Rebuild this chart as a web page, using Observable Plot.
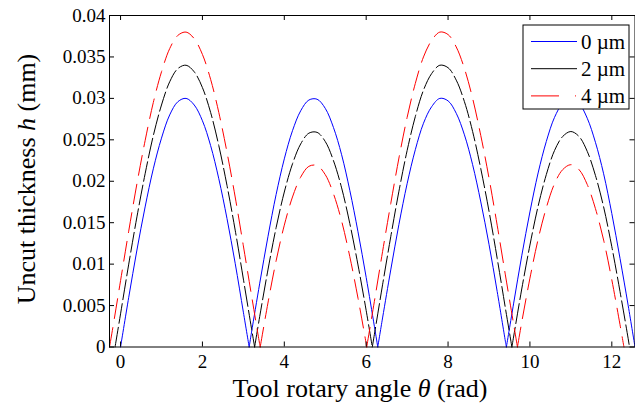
<!DOCTYPE html>
<html>
<head>
<meta charset="utf-8">
<script src="https://cdn.jsdelivr.net/npm/d3@7"></script>
<script src="https://cdn.jsdelivr.net/npm/@observablehq/plot@0.6"></script>
<style>
  html, body { margin: 0; padding: 0; background: #fff; }
  #chart svg, #chart svg text, #chart svg tspan { font-family: 'Liberation Serif', 'Times New Roman', Times, serif !important; }
</style>
</head>
<body>
<div id="chart"></div>
<script>
// ---- Data ----
const seriesNames = ["0 µm", "2 µm", "4 µm"];
const seriesColors = ["#0000ff", "#000000", "#ff0000"];
const seriesDash = [null, "20,4", "20,9"];
const legendDash = [null, null, "28,16,1,16"];

const xTicks = [0, 2, 4, 6, 8, 10, 12];
const xTickLabels = ["0", "2", "4", "6", "8", "10", "12"];
const yTicks = [0, 0.005, 0.01, 0.015, 0.02, 0.025, 0.03, 0.035, 0.04];
const yTickLabels = ["0", "0.005", "0.01", "0.015", "0.02", "0.025", "0.03", "0.035", "0.04"];
const xDomain = [-0.27, 12.5664];
const yDomain = [0, 0.04];

// 0 µm (blue)
const theta0 = [0, 0.2, 0.4, 0.6, 0.8, 1.0, 1.2, 1.4, 1.6, 1.8, 2.0, 2.2, 2.4, 2.6, 2.8, 3.0, 3.1416,
  3.2, 3.4, 3.6, 3.8, 4.0, 4.2, 4.4, 4.6, 4.8, 5.0, 5.2, 5.4, 5.6, 5.8, 6.0, 6.2, 6.2832,
  6.4, 6.6, 6.8, 7.0, 7.2, 7.4, 7.6, 7.8, 8.0, 8.2, 8.4, 8.6, 8.8, 9.0, 9.2, 9.4, 9.4248,
  9.6, 9.8, 10.0, 10.2, 10.4, 10.6, 10.8, 11.0, 11.2, 11.4, 11.6, 11.8, 12.0, 12.2, 12.4, 12.5664];
const h0 = [0, 0.0060, 0.0117, 0.0169, 0.0215, 0.0252, 0.0280, 0.0296, 0.0300, 0.0292, 0.0273, 0.0243, 0.0203, 0.0155, 0.0101, 0.0042, 0,
  0.0018, 0.0077, 0.0133, 0.0184, 0.0227, 0.0261, 0.0285, 0.0298, 0.0299, 0.0288, 0.0265, 0.0232, 0.0189, 0.0139, 0.0084, 0.0025, 0,
  0.0035, 0.0093, 0.0148, 0.0197, 0.0238, 0.0270, 0.0290, 0.0300, 0.0297, 0.0282, 0.0256, 0.0220, 0.0175, 0.0124, 0.0067, 0.0007, 0,
  0.0052, 0.0110, 0.0163, 0.0210, 0.0248, 0.0277, 0.0294, 0.0300, 0.0294, 0.0276, 0.0247, 0.0209, 0.0161, 0.0107, 0.0050, 0];

// 2 µm (black)
const theta2 = [-0.134, 0.0, 0.2, 0.4, 0.6, 0.8, 1.0, 1.2, 1.4, 1.6, 1.8, 2.0, 2.2, 2.4, 2.6, 2.8, 3.0, 3.2, 3.275,
  3.4, 3.6, 3.8, 4.0, 4.2, 4.4, 4.6, 4.8, 5.0, 5.2, 5.4, 5.6, 5.8, 6.0, 6.149,
  6.2, 6.4, 6.6, 6.8, 7.0, 7.2, 7.4, 7.6, 7.8, 8.0, 8.2, 8.4, 8.6, 8.8, 9.0, 9.2, 9.4, 9.559,
  9.6, 9.8, 10.0, 10.2, 10.4, 10.6, 10.8, 11.0, 11.2, 11.4, 11.6, 11.8, 12.0, 12.2, 12.4, 12.432];
const h2 = [0, 0.0040, 0.0100, 0.0157, 0.0209, 0.0255, 0.0292, 0.0320, 0.0336, 0.0340, 0.0332, 0.0313, 0.0283, 0.0243, 0.0195, 0.0141, 0.0082, 0.0022, 0,
  0.0037, 0.0093, 0.0144, 0.0187, 0.0221, 0.0245, 0.0258, 0.0259, 0.0248, 0.0225, 0.0192, 0.0149, 0.0099, 0.0044, 0,
  0.0015, 0.0075, 0.0133, 0.0188, 0.0237, 0.0278, 0.0310, 0.0330, 0.0340, 0.0337, 0.0322, 0.0296, 0.0260, 0.0215, 0.0164, 0.0107, 0.0047, 0,
  0.0012, 0.0070, 0.0123, 0.0170, 0.0208, 0.0237, 0.0254, 0.0260, 0.0254, 0.0236, 0.0207, 0.0169, 0.0121, 0.0067, 0.0010, 0];

// 4 µm (red)
const theta4 = [-0.27, -0.2, 0.0, 0.2, 0.4, 0.6, 0.8, 1.0, 1.2, 1.4, 1.6, 1.8, 2.0, 2.2, 2.4, 2.6, 2.8, 3.0, 3.2, 3.4, 3.4115,
  3.6, 3.8, 4.0, 4.2, 4.4, 4.6, 4.8, 5.0, 5.2, 5.4, 5.6, 5.8, 6.0, 6.013,
  6.2, 6.4, 6.6, 6.8, 7.0, 7.2, 7.4, 7.6, 7.8, 8.0, 8.2, 8.4, 8.6, 8.8, 9.0, 9.2, 9.4, 9.6, 9.695,
  9.8, 10.0, 10.2, 10.4, 10.6, 10.8, 11.0, 11.2, 11.4, 11.6, 11.8, 12.0, 12.2, 12.296];
const h4 = [0, 0.0020, 0.0080, 0.0140, 0.0197, 0.0249, 0.0295, 0.0332, 0.0360, 0.0376, 0.0380, 0.0372, 0.0353, 0.0323, 0.0283, 0.0235, 0.0181, 0.0122, 0.0062, 0.0003, 0,
  0.0053, 0.0104, 0.0147, 0.0181, 0.0205, 0.0218, 0.0219, 0.0208, 0.0185, 0.0152, 0.0109, 0.0059, 0.0004, 0,
  0.0055, 0.0115, 0.0173, 0.0228, 0.0277, 0.0318, 0.0350, 0.0370, 0.0380, 0.0377, 0.0362, 0.0336, 0.0300, 0.0255, 0.0204, 0.0147, 0.0087, 0.0028, 0,
  0.0030, 0.0083, 0.0130, 0.0168, 0.0197, 0.0214, 0.0220, 0.0214, 0.0196, 0.0167, 0.0129, 0.0081, 0.0027, 0];

// ---- Build table: split each series into lobes at its zero points ----
const rows = [];
function addSeries(name, thetas, hs) {
  let lobe = 0;
  thetas.forEach((t, i) => {
    rows.push({series: name, key: name + "-" + lobe, theta: t, h: hs[i]});
    if (hs[i] === 0 && i > 0 && i < thetas.length - 1) {
      lobe++;
      rows.push({series: name, key: name + "-" + lobe, theta: t, h: hs[i]});
    }
  });
}
addSeries(seriesNames[0], theta0, h0);
addSeries(seriesNames[1], theta2, h2);
addSeries(seriesNames[2], theta4, h4);

// ---- Layout ----
const W = 635, H = 407;
const mL = 109, mR = 0.5, mT = 15, mB = 60.5;
const innerW = W - mL - mR, innerH = H - mT - mB;
const tickLen = 5;
const FONT = "'Liberation Serif', 'Times New Roman', Times, serif";

const plot = Plot.plot({
  width: W, height: H,
  marginLeft: mL, marginRight: mR, marginTop: mT, marginBottom: mB,
  style: "background: #fff; color: #000; overflow: visible;",
  x: {domain: xDomain},
  y: {domain: yDomain},
  marks: [
    Plot.axisX({ticks: xTicks, tickSize: 0, tickPadding: 7, label: null, fontSize: 19,
      tickFormat: d => xTickLabels[xTicks.indexOf(d)]}),
    Plot.axisY({ticks: yTicks, tickSize: 0, tickPadding: 4, label: null, fontSize: 19,
      tickFormat: d => yTickLabels[yTicks.indexOf(d)]}),
    ...seriesNames.map((s, i) => Plot.line(rows.filter(r => r.series === s), {
      x: "theta", y: "h", z: "key",
      stroke: seriesColors[i], strokeWidth: 1,
      strokeDasharray: seriesDash[i] || undefined,
      curve: "catmull-rom"
    })),
    Plot.tickX(xTicks, {x: d => d, insetTop: innerH - tickLen, stroke: "#000"}),
    Plot.tickX(xTicks, {x: d => d, insetBottom: innerH - tickLen, stroke: "#000"}),
    Plot.tickY(yTicks, {y: d => d, insetRight: innerW - tickLen, stroke: "#000"}),
    Plot.tickY(yTicks, {y: d => d, insetLeft: innerW - tickLen, stroke: "#000"}),
    Plot.frame({stroke: "#000", strokeWidth: 1})
  ]
});
plot.setAttribute("font-family", FONT);
plot.setAttribute("font-size", "19");

// ---- Axis titles with italic symbols ----
const svg = d3.select(plot);
const xl = svg.append("text")
  .attr("x", 360).attr("y", 397)
  .attr("text-anchor", "middle")
  .attr("font-family", FONT).attr("font-size", 26).attr("fill", "#000");
xl.append("tspan").text("Tool rotary angle ");
xl.append("tspan").attr("font-style", "italic").text("θ");
xl.append("tspan").text(" (rad)");

const yl = svg.append("text")
  .attr("transform", "translate(35,179) rotate(-90)")
  .attr("text-anchor", "middle")
  .attr("font-family", FONT).attr("font-size", 26).attr("fill", "#000");
yl.append("tspan").text("Uncut thickness ");
yl.append("tspan").attr("font-style", "italic").text("h");
yl.append("tspan").text(" (mm)");

// ---- Legend ----
const lg = svg.append("g").attr("font-family", FONT).attr("font-size", 21).attr("text-anchor", "start");
lg.append("rect").attr("x", 523).attr("y", 25).attr("width", 106).attr("height", 84)
  .attr("fill", "#fff").attr("stroke", "#000").attr("stroke-width", 1);
seriesNames.forEach((s, i) => {
  const yy = 41.5 + i * 27.2;
  lg.append("line").attr("x1", 531).attr("x2", 577).attr("y1", yy).attr("y2", yy)
    .style("stroke", seriesColors[i]).style("stroke-width", "1px")
    .attr("stroke-dasharray", legendDash[i]);
  lg.append("text").attr("x", 581).attr("y", yy).attr("dy", "0.35em")
    .attr("text-anchor", "start").attr("fill", "#000").text(s);
});

document.getElementById("chart").appendChild(plot);
</script>
</body>
</html>
